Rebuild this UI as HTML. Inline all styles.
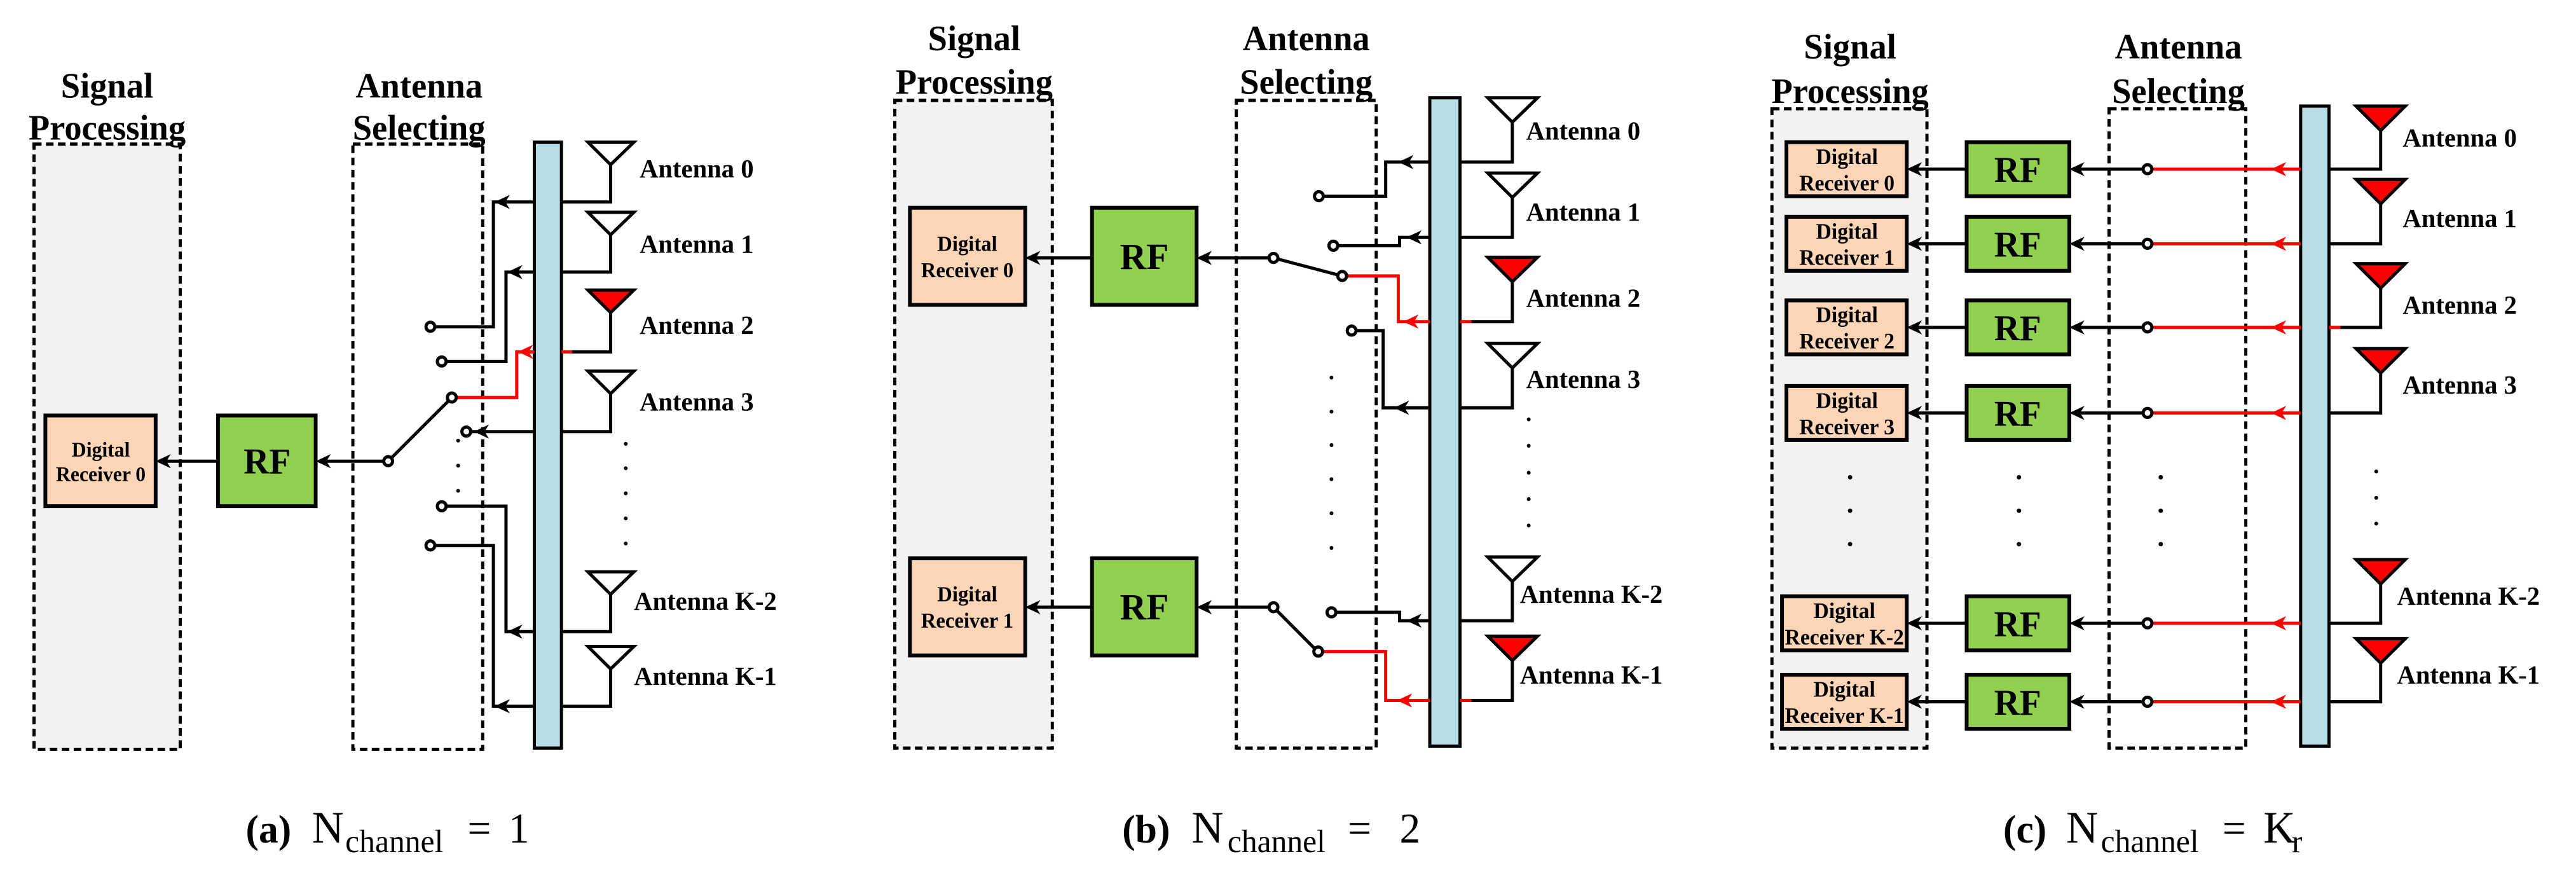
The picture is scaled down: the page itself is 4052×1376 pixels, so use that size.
<!DOCTYPE html>
<html><head><meta charset="utf-8"><style>
html,body{margin:0;padding:0;background:#fff;}
svg{display:block;font-family:"Liberation Serif","DejaVu Serif",serif;}
text{font-family:"Liberation Serif","DejaVu Serif",serif;}
.t{font-weight:bold;fill:#000;}
.cap{fill:#000;}
</style></head><body>
<svg width="4052" height="1376" viewBox="0 0 4052 1376" xmlns="http://www.w3.org/2000/svg" font-family="Liberation Serif, DejaVu Serif, serif">
<defs>
<path id="ak" d="M0,0 L24,-11 L17,0 L24,11Z"/>
</defs>
<rect width="4052" height="1376" fill="#fff"/>

<!-- ================= PANEL A ================= -->
<g transform="translate(0,0) scale(0.9912,1.0115)">
<rect x="54" y="224" width="232" height="941" fill="#f2f2f2" stroke="#000" stroke-width="5" stroke-dasharray="12 7"/>
<rect x="560" y="224" width="206" height="941" fill="none" stroke="#000" stroke-width="5" stroke-dasharray="12 7"/>
<text class="t" x="170" y="152" font-size="55" text-anchor="middle">Signal</text>
<text class="t" x="170" y="217" font-size="55" text-anchor="middle">Processing</text>
<text class="t" x="665" y="152" font-size="55" text-anchor="middle">Antenna</text>
<text class="t" x="665" y="217" font-size="55" text-anchor="middle">Selecting</text>
<rect x="848" y="221" width="43" height="942" fill="#b9dde6" stroke="#000" stroke-width="5"/>
<g stroke="#000" stroke-width="5" fill="none" stroke-linejoin="miter">
 <path d="M891,314H969V256"/><path d="M891,423H969V365"/><path d="M908,547H969V486"/>
 <path d="M891,671H969V612"/><path d="M891,982H969V924"/><path d="M891,1098H969V1040"/>
 <path d="M848,314H783V508H691"/><path d="M848,423H803V562H709"/>
 <path d="M848,671H748"/><path d="M848,982H803V787H709"/><path d="M848,1098H783V848H691"/>
 <path d="M616,717L711,624"/><path d="M608,717H506"/><path d="M346,717H252"/>
</g>
<path d="M891,547H908" stroke="red" stroke-width="5"/>
<path d="M848,547H820V618H725" stroke="red" stroke-width="5" fill="none"/>
<g fill="#fff" stroke-width="5">
 <polygon points="933,221 1006,221 969,256" stroke="#000"/>
 <polygon points="933,330 1006,330 969,365" stroke="#000"/>
 <polygon points="933,451 1006,451 969,486" stroke="#000" fill="red"/>
 <polygon points="933,577 1006,577 969,612" stroke="#000"/>
 <polygon points="933,889 1006,889 969,924" stroke="#000"/>
 <polygon points="933,1005 1006,1005 969,1040" stroke="#000"/>
</g>
<use href="#ak" x="785" y="314"/><use href="#ak" x="805" y="423"/><use href="#ak" x="822" y="547" fill="red"/>
<use href="#ak" x="752" y="671"/><use href="#ak" x="805" y="982"/><use href="#ak" x="785" y="1098"/>
<use href="#ak" x="501" y="717"/><use href="#ak" x="247" y="717"/>
<g fill="#fff" stroke="#000" stroke-width="5">
 <circle cx="683" cy="508" r="7"/><circle cx="701" cy="562" r="7"/><circle cx="717" cy="618" r="7"/>
 <circle cx="740" cy="671" r="7"/><circle cx="701" cy="787" r="7"/><circle cx="683" cy="848" r="7"/>
 <circle cx="616" cy="717" r="7"/>
</g>
<g fill="#000"><circle cx="727" cy="685" r="3"/><circle cx="727" cy="724" r="3"/><circle cx="727" cy="763" r="3"/>
<circle cx="993" cy="690" r="3"/><circle cx="993" cy="728" r="3"/><circle cx="993" cy="767" r="3"/><circle cx="993" cy="806" r="3"/><circle cx="993" cy="845" r="3"/></g>
<rect x="346" y="646" width="155" height="141" fill="#92d050" stroke="#000" stroke-width="6"/>
<text class="t" x="424" y="736" font-size="56" text-anchor="middle">RF</text>
<rect x="72" y="646" width="175" height="141" fill="#fbd5b5" stroke="#000" stroke-width="6"/>
<text class="t" x="160" y="710" font-size="32" text-anchor="middle">Digital</text>
<text class="t" x="160" y="748" font-size="32" text-anchor="middle">Receiver 0</text>
<g class="t" font-size="41">
<text x="1015" y="276">Antenna 0</text><text x="1015" y="393">Antenna 1</text><text x="1015" y="519">Antenna 2</text>
<text x="1015" y="638">Antenna 3</text><text x="1006" y="948">Antenna K-2</text><text x="1006" y="1065">Antenna K-1</text>
</g>
<text class="t" x="390" y="1310" font-size="62">(a)</text>
<text class="cap" x="495" y="1310" font-size="70">N</text>
<text class="cap" x="548" y="1325" font-size="50">channel</text>
<text class="cap" x="742" y="1310" font-size="66">=</text>
<text class="cap" x="807" y="1310" font-size="66">1</text>
</g>

<!-- ================= PANEL B ================= -->
<g transform="translate(1350,0) scale(0.9912,1.0115)">
<rect x="58" y="156" width="250" height="1007" fill="#f2f2f2" stroke="#000" stroke-width="5" stroke-dasharray="12 7"/>
<rect x="600" y="156" width="222" height="1007" fill="none" stroke="#000" stroke-width="5" stroke-dasharray="12 7"/>
<text class="t" x="184" y="78" font-size="55" text-anchor="middle">Signal</text>
<text class="t" x="184" y="146" font-size="55" text-anchor="middle">Processing</text>
<text class="t" x="711" y="78" font-size="55" text-anchor="middle">Antenna</text>
<text class="t" x="711" y="146" font-size="55" text-anchor="middle">Selecting</text>
<rect x="907" y="152" width="48" height="1008" fill="#b9dde6" stroke="#000" stroke-width="5"/>
<g stroke="#000" stroke-width="5" fill="none">
 <path d="M955,252H1038V190"/><path d="M955,369H1038V307"/><path d="M973,500H1038V438"/>
 <path d="M955,634H1038V572"/><path d="M955,965H1038V904"/><path d="M973,1089H1038V1027"/>
 <path d="M907,252H837V305H739"/><path d="M907,369H859V382H762"/>
 <path d="M907,634H833V514H791"/><path d="M907,965H859V952H759"/>
 <path d="M659,401L760,427"/><path d="M651,401H542"/><path d="M371,401H270"/>
 <path d="M659,944L724,1008"/><path d="M651,944H542"/><path d="M371,944H270"/>
</g>
<g stroke="red" stroke-width="5" fill="none">
 <path d="M955,500H973"/><path d="M955,1089H973"/>
 <path d="M907,500H857V429H776"/><path d="M907,1089H837V1013H738"/>
</g>
<g stroke="#000" stroke-width="5">
 <polygon points="999,152 1078,152 1038,190" fill="#fff"/>
 <polygon points="999,269 1078,269 1038,307" fill="#fff"/>
 <polygon points="999,400 1078,400 1038,438" fill="red"/>
 <polygon points="999,534 1078,534 1038,572" fill="#fff"/>
 <polygon points="999,866 1078,866 1038,904" fill="#fff"/>
 <polygon points="999,989 1078,989 1038,1027" fill="red"/>
</g>
<use href="#ak" x="857" y="252"/><use href="#ak" x="870" y="369"/><use href="#ak" x="865" y="500" fill="red"/>
<use href="#ak" x="850" y="634"/><use href="#ak" x="870" y="965"/><use href="#ak" x="855" y="1089" fill="red"/>
<use href="#ak" x="537" y="401"/><use href="#ak" x="265" y="401"/>
<use href="#ak" x="537" y="944"/><use href="#ak" x="265" y="944"/>
<g fill="#fff" stroke="#000" stroke-width="5">
 <circle cx="731" cy="305" r="7"/><circle cx="754" cy="382" r="7"/><circle cx="768" cy="429" r="7"/>
 <circle cx="783" cy="514" r="7"/><circle cx="751" cy="952" r="7"/><circle cx="730" cy="1013" r="7"/>
 <circle cx="659" cy="401" r="7"/><circle cx="659" cy="944" r="7"/>
</g>
<g fill="#000">
 <circle cx="751" cy="587" r="3"/><circle cx="751" cy="640" r="3"/><circle cx="751" cy="692" r="3"/><circle cx="751" cy="745" r="3"/><circle cx="751" cy="798" r="3"/><circle cx="751" cy="852" r="3"/>
 <circle cx="1064" cy="652" r="3"/><circle cx="1064" cy="693" r="3"/><circle cx="1064" cy="735" r="3"/><circle cx="1064" cy="776" r="3"/><circle cx="1064" cy="817" r="3"/>
</g>
<rect x="371" y="323" width="166" height="151" fill="#92d050" stroke="#000" stroke-width="6"/>
<text class="t" x="454" y="418" font-size="58" text-anchor="middle">RF</text>
<rect x="371" y="868" width="166" height="151" fill="#92d050" stroke="#000" stroke-width="6"/>
<text class="t" x="454" y="963" font-size="58" text-anchor="middle">RF</text>
<rect x="82" y="323" width="183" height="151" fill="#fbd5b5" stroke="#000" stroke-width="6"/>
<text class="t" x="173" y="390" font-size="33" text-anchor="middle">Digital</text>
<text class="t" x="173" y="431" font-size="33" text-anchor="middle">Receiver 0</text>
<rect x="82" y="868" width="183" height="151" fill="#fbd5b5" stroke="#000" stroke-width="6"/>
<text class="t" x="173" y="935" font-size="33" text-anchor="middle">Digital</text>
<text class="t" x="173" y="976" font-size="33" text-anchor="middle">Receiver 1</text>
<g class="t" font-size="41">
<text x="1060" y="217">Antenna 0</text><text x="1060" y="343">Antenna 1</text><text x="1060" y="477">Antenna 2</text>
<text x="1060" y="603">Antenna 3</text><text x="1050" y="937">Antenna K-2</text><text x="1050" y="1063">Antenna K-1</text>
</g>
<text class="t" x="419" y="1310" font-size="62">(b)</text>
<text class="cap" x="529" y="1310" font-size="70">N</text>
<text class="cap" x="586" y="1325" font-size="50">channel</text>
<text class="cap" x="777" y="1310" font-size="66">=</text>
<text class="cap" x="859" y="1310" font-size="66">2</text>
</g>

<!-- ================= PANEL C ================= -->
<g transform="translate(2700,0) scale(0.9912,1.0115)">
<rect x="88" y="169" width="246" height="994" fill="#f2f2f2" stroke="#000" stroke-width="5" stroke-dasharray="12 7"/>
<rect x="623" y="169" width="217" height="994" fill="none" stroke="#000" stroke-width="5" stroke-dasharray="12 7"/>
<text class="t" x="212" y="91" font-size="55" text-anchor="middle">Signal</text>
<text class="t" x="212" y="160" font-size="55" text-anchor="middle">Processing</text>
<text class="t" x="733" y="91" font-size="55" text-anchor="middle">Antenna</text>
<text class="t" x="733" y="160" font-size="55" text-anchor="middle">Selecting</text>
<rect x="927" y="165" width="45" height="995" fill="#b9dde6" stroke="#000" stroke-width="5"/>
<g stroke="#000" stroke-width="5" fill="none">
 <path d="M972,263H1054V203"/><path d="M972,379H1054V317"/><path d="M990,509H1054V448"/>
 <path d="M972,642H1054V580"/><path d="M972,969H1054V908"/><path d="M972,1091H1054V1031"/>
 <path d="M676,263H565"/><path d="M676,379H565"/><path d="M676,509H565"/><path d="M676,642H565"/><path d="M676,969H565"/><path d="M676,1091H565"/>
 <path d="M397,263H307"/><path d="M397,379H307"/><path d="M397,509H307"/><path d="M397,642H307"/><path d="M397,969H307"/><path d="M397,1091H307"/>
</g>
<g stroke="red" stroke-width="5">
 <path d="M972,509H990"/>
 <path d="M927,263H692"/><path d="M927,379H692"/><path d="M927,509H692"/><path d="M927,642H692"/><path d="M927,969H692"/><path d="M927,1091H692"/>
</g>
<g stroke="#000" stroke-width="5" fill="red">
 <polygon points="1015,165 1093,165 1054,203"/><polygon points="1015,279 1093,279 1054,317"/>
 <polygon points="1015,410 1093,410 1054,448"/><polygon points="1015,542 1093,542 1054,580"/>
 <polygon points="1015,870 1093,870 1054,908"/><polygon points="1015,993 1093,993 1054,1031"/>
</g>
<g fill="red"><use href="#ak" x="880" y="263"/><use href="#ak" x="880" y="379"/><use href="#ak" x="880" y="509"/><use href="#ak" x="880" y="642"/><use href="#ak" x="880" y="969"/><use href="#ak" x="880" y="1091"/></g>
<use href="#ak" x="560" y="263"/><use href="#ak" x="560" y="379"/><use href="#ak" x="560" y="509"/><use href="#ak" x="560" y="642"/><use href="#ak" x="560" y="969"/><use href="#ak" x="560" y="1091"/>
<use href="#ak" x="302" y="263"/><use href="#ak" x="302" y="379"/><use href="#ak" x="302" y="509"/><use href="#ak" x="302" y="642"/><use href="#ak" x="302" y="969"/><use href="#ak" x="302" y="1091"/>
<g fill="#fff" stroke="#000" stroke-width="5">
 <circle cx="684" cy="263" r="7"/><circle cx="684" cy="379" r="7"/><circle cx="684" cy="509" r="7"/>
 <circle cx="684" cy="642" r="7"/><circle cx="684" cy="969" r="7"/><circle cx="684" cy="1091" r="7"/>
</g>
<g fill="#000">
 <circle cx="212" cy="742" r="3.5"/><circle cx="212" cy="794" r="3.5"/><circle cx="212" cy="846" r="3.5"/>
 <circle cx="480" cy="742" r="3.5"/><circle cx="480" cy="794" r="3.5"/><circle cx="480" cy="846" r="3.5"/>
 <circle cx="705" cy="742" r="3.5"/><circle cx="705" cy="794" r="3.5"/><circle cx="705" cy="846" r="3.5"/>
 <circle cx="1047" cy="733" r="3"/><circle cx="1047" cy="774" r="3"/><circle cx="1047" cy="814" r="3"/>
</g>
<g fill="#92d050" stroke="#000" stroke-width="6">
 <rect x="397" y="221" width="163" height="84"/><rect x="397" y="337" width="163" height="84"/><rect x="397" y="467" width="163" height="84"/>
 <rect x="397" y="600" width="163" height="84"/><rect x="397" y="927" width="163" height="84"/><rect x="397" y="1049" width="163" height="84"/>
</g>
<g class="t" font-size="56" text-anchor="middle">
 <text x="478" y="283">RF</text><text x="478" y="399">RF</text><text x="478" y="529">RF</text>
 <text x="478" y="662">RF</text><text x="478" y="989">RF</text><text x="478" y="1111">RF</text>
</g>
<g fill="#fbd5b5" stroke="#000" stroke-width="6">
 <rect x="111" y="221" width="191" height="84"/><rect x="111" y="337" width="191" height="84"/><rect x="111" y="467" width="191" height="84"/>
 <rect x="111" y="600" width="191" height="84"/><rect x="104" y="927" width="198" height="84"/><rect x="104" y="1049" width="198" height="84"/>
</g>
<g class="t" font-size="34" text-anchor="middle">
 <text x="207" y="255">Digital</text><text x="207" y="296">Receiver 0</text>
 <text x="207" y="371">Digital</text><text x="207" y="412">Receiver 1</text>
 <text x="207" y="501">Digital</text><text x="207" y="542">Receiver 2</text>
 <text x="207" y="634">Digital</text><text x="207" y="675">Receiver 3</text>
 <text x="203" y="961">Digital</text><text x="203" y="1002">Receiver K-2</text>
 <text x="203" y="1083">Digital</text><text x="203" y="1124">Receiver K-1</text>
</g>
<g class="t" font-size="41">
<text x="1089" y="228">Antenna 0</text><text x="1089" y="353">Antenna 1</text><text x="1089" y="488">Antenna 2</text>
<text x="1089" y="612">Antenna 3</text><text x="1080" y="940">Antenna K-2</text><text x="1080" y="1063">Antenna K-1</text>
</g>
<text class="t" x="455" y="1310" font-size="62">(c)</text>
<text class="cap" x="555" y="1310" font-size="70">N</text>
<text class="cap" x="610" y="1325" font-size="50">channel</text>
<text class="cap" x="803" y="1310" font-size="66">=</text>
<text class="cap" x="868" y="1310" font-size="70">K</text>
<text class="cap" x="913" y="1325" font-size="50">r</text>
</g>
</svg>
</body></html>
